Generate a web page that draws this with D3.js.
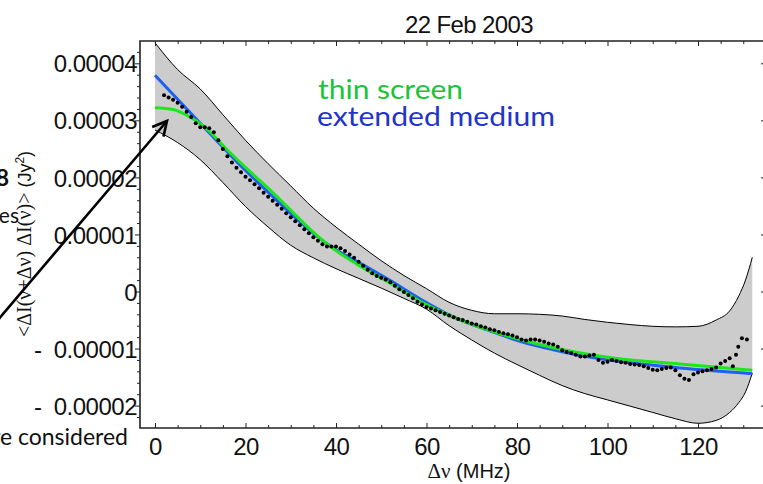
<!DOCTYPE html>
<html><head><meta charset="utf-8">
<script src="https://cdn.jsdelivr.net/npm/d3@7/dist/d3.min.js"></script>
<style>
body{margin:0;background:#fff}
svg{display:block}
text{white-space:pre}
</style>
</head><body>
<svg id="c" width="763" height="484"></svg>
<script>
// values are in units of 1e-5 Jy^2
const xTicks = [0, 20, 40, 60, 80, 100, 120];
const yTicks = [-2, -1, 0, 1, 2, 3, 4];
const yTickLabels = ["-  0.00002", "-  0.00001", "0", "0.00001", "0.00002", "0.00003", "0.00004"];

const bandFreq  = [0,5,10,15,20,25,30,35,40,45,50,55,60,65,70,75,80,85,90,95,100,105,110,115,120,124,127,129,130.5,132];
const bandUpper = [4.36,3.89,3.55,3.10,2.65,2.24,1.85,1.46,1.13,0.83,0.54,0.28,0.05,-0.19,-0.33,-0.39,-0.39,-0.40,-0.43,-0.49,-0.54,-0.58,-0.61,-0.62,-0.61,-0.50,-0.34,-0.08,0.20,0.60];
const bandLower = [2.83,2.61,2.31,1.91,1.49,1.13,0.81,0.59,0.40,0.23,0.06,-0.12,-0.31,-0.60,-0.85,-1.08,-1.28,-1.47,-1.65,-1.79,-1.90,-2.01,-2.12,-2.23,-2.31,-2.26,-2.12,-1.95,-1.76,-1.43];

const greenFreq = [0,4,7,11,16,21,25.4,29.8,34.3,38.7,44.6,51.9,59.2,66.3,73.6,81.1,88.4,95.7,101.7,116,132];
const greenVal  = [3.22,3.19,3.09,2.88,2.48,2.10,1.78,1.44,1.09,0.79,0.48,0.15,-0.20,-0.46,-0.67,-0.85,-0.99,-1.10,-1.17,-1.27,-1.38];

const blueFreq = [0,5,10,15,20,25,30,35,40,45,52,59,66,74,81,88,96,102,116,132];
const blueVal  = [3.79,3.37,2.95,2.53,2.12,1.74,1.37,1.02,0.73,0.51,0.19,-0.15,-0.45,-0.69,-0.88,-1.02,-1.15,-1.22,-1.34,-1.44];

const dotFreq = [2,3,4,5,6,7,8,9,10,11,12,13,14,15,16,17,18,19,20,21,22,23,24,25,26,27,28,29,30,
  31,32,33,34,35,36,37,38,39,40,41,42,43,44,45,46,47,48,49,50,51,52,53,54,55,56,57,58,59,60,
  61,62,63,64,65,66,67,68,69,70,71,72,73,74,75,76,77,78,79,80,81,82,83,84,85,86,87,88,89,90,
  91,92,93,94,95,96,97,98,99,100,101,102,103,104,105,106,107,108,109,110,111,112,113,114,115,
  116,117,118,119,120,121,122,123,124,125,126,127,127.7,128.4,128.9,129.7,130.8];
const dotVal = [3.44,3.40,3.36,3.31,3.24,3.15,3.06,2.95,2.88,2.88,2.86,2.79,2.65,2.50,2.37,2.26,2.17,2.09,2.01,1.95,1.88,1.81,1.73,1.66,1.59,1.52,1.45,1.37,1.30,
  1.23,1.16,1.09,1.02,0.95,0.89,0.83,0.79,0.79,0.79,0.76,0.71,0.65,0.59,0.52,0.45,0.38,0.32,0.27,0.24,0.21,0.16,0.10,0.04,-0.01,-0.06,-0.12,-0.18,-0.23,-0.27,
  -0.30,-0.33,-0.36,-0.39,-0.42,-0.45,-0.48,-0.50,-0.53,-0.56,-0.58,-0.61,-0.63,-0.66,-0.68,-0.71,-0.73,-0.75,-0.77,-0.80,-0.84,-0.86,-0.84,-0.84,-0.86,-0.88,-0.91,-0.93,-0.97,-1.03,
  -1.06,-1.08,-1.11,-1.14,-1.14,-1.12,-1.11,-1.20,-1.25,-1.23,-1.20,-1.22,-1.24,-1.25,-1.27,-1.28,-1.29,-1.31,-1.34,-1.37,-1.38,-1.36,-1.34,-1.33,-1.38,
  -1.47,-1.53,-1.55,-1.45,-1.42,-1.40,-1.38,-1.36,-1.33,-1.26,-1.22,-1.17,-1.31,-1.11,-0.97,-0.82,-0.84];

const svg = d3.select("#c");
const L = 140, R = 767, T = 41, B = 428;
const x = d3.scaleLinear().domain([0, 120]).range([155, 698]);
const y = d3.scaleLinear().domain([0, 4]).range([291.5, 63.3]);

// band
const band = bandFreq.map((f, i) => ({f, lo: bandLower[i], hi: bandUpper[i]}));
svg.append("path").datum(band)
  .attr("d", d3.area().x(d => x(d.f)).y0(d => y(d.lo)).y1(d => y(d.hi)).curve(d3.curveMonotoneX))
  .attr("fill", "#cccccc");
const edge = d3.line().x(d => x(d.f)).y(d => y(d.v)).curve(d3.curveMonotoneX);
svg.append("path").datum(band.map(d => ({f: d.f, v: d.hi}))).attr("d", edge)
  .attr("fill", "none").attr("stroke", "#000").attr("stroke-width", 1);
svg.append("path").datum(band.map(d => ({f: d.f, v: d.lo}))).attr("d", edge)
  .attr("fill", "none").attr("stroke", "#000").attr("stroke-width", 1);

// fits
const lineGen = d3.line().x(d => x(d.f)).y(d => y(d.v)).curve(d3.curveMonotoneX);
svg.append("path").datum(blueFreq.map((f, i) => ({f, v: blueVal[i]}))).attr("d", lineGen)
  .attr("fill", "none").attr("stroke", "#2060f0").attr("stroke-width", 3);
svg.append("path").datum(greenFreq.map((f, i) => ({f, v: greenVal[i]}))).attr("d", lineGen)
  .attr("fill", "none").attr("stroke", "#1ee61e").attr("stroke-width", 3);

// data dots
svg.append("g").selectAll("circle").data(dotFreq.map((f, i) => ({f, v: dotVal[i]})))
  .join("circle").attr("cx", d => x(d.f)).attr("cy", d => y(d.v)).attr("r", 2).attr("fill", "#000");

// axes
const minorX = d3.range(-0, 136, 5).filter(v => v % 20 !== 0);
const minorY = d3.range(-2.2, 4.3, 0.2).map(v => Math.round(v * 10) / 10).filter(v => Math.abs(v - Math.round(v)) > 1e-6);
function styleAxis(g) {
  g.select(".domain").remove();
  g.selectAll("line").attr("stroke", "#222").attr("stroke-width", 1);
}
svg.append("g").attr("transform", `translate(0,${B})`)
  .call(d3.axisBottom(x).tickValues(xTicks).tickSizeInner(-5).tickSizeOuter(0).tickPadding(10))
  .call(styleAxis)
  .call(g => g.selectAll("text").attr("font-family", "Liberation Sans, Arial, sans-serif")
    .attr("font-size", 24).attr("letter-spacing", "-0.5px").attr("fill", "#111"));
svg.append("g").attr("transform", `translate(0,${B})`)
  .call(d3.axisBottom(x).tickValues(minorX).tickSizeInner(-3).tickSizeOuter(0).tickFormat(""))
  .call(styleAxis);
svg.append("g").attr("transform", `translate(0,${T})`)
  .call(d3.axisTop(x).tickValues(xTicks).tickSizeInner(-5).tickSizeOuter(0).tickFormat(""))
  .call(styleAxis);
svg.append("g").attr("transform", `translate(0,${T})`)
  .call(d3.axisTop(x).tickValues(minorX).tickSizeInner(-3).tickSizeOuter(0).tickFormat(""))
  .call(styleAxis);
svg.append("g").attr("transform", `translate(${L},0)`)
  .call(d3.axisLeft(y).tickValues(yTicks).tickSizeInner(5).tickSizeOuter(0).tickPadding(-2)
    .tickFormat((d, i) => yTickLabels[i]))
  .call(styleAxis)
  .call(g => g.selectAll("text").attr("font-family", "Liberation Sans, Arial, sans-serif")
    .attr("font-size", 24).attr("letter-spacing", "-0.5px").attr("fill", "#111").attr("dy", "0.36em"));
svg.append("g").attr("transform", `translate(${L},0)`)
  .call(d3.axisLeft(y).tickValues(minorY).tickSizeInner(3).tickSizeOuter(0).tickFormat(""))
  .call(styleAxis);
svg.append("g").attr("transform", `translate(${R},0)`)
  .call(d3.axisRight(y).tickValues(yTicks).tickSizeInner(-6).tickSizeOuter(0).tickFormat(""))
  .call(styleAxis);

// frame
svg.append("path").attr("d", `M${R},${T}H${L}V${B}H${R}`).attr("fill", "none")
  .attr("stroke", "#222").attr("stroke-width", 1.6);

// title
svg.append("text").attr("x", 469).attr("y", 33).attr("text-anchor", "middle")
  .attr("font-family", "Liberation Sans, Arial, sans-serif").attr("font-size", 24)
  .attr("letter-spacing", "-0.6px").attr("fill", "#111").text("22 Feb 2003");

// x label
const xl = svg.append("text").attr("x", 469).attr("y", 478).attr("text-anchor", "middle")
  .attr("font-size", 20).attr("fill", "#111");
xl.append("tspan").attr("font-family", "Liberation Serif, serif").attr("font-size", 21).text("Δν");
xl.append("tspan").attr("font-family", "Liberation Sans, Arial, sans-serif").text(" (MHz)");

// y label
const yl = svg.append("text").attr("transform", "translate(31,244) rotate(-90)")
  .attr("text-anchor", "middle").attr("font-size", 20).attr("fill", "#111");
yl.append("tspan").attr("font-family", "Liberation Serif, serif").text("<ΔI(ν+Δν) ΔI(ν)>");
yl.append("tspan").attr("font-family", "Liberation Sans, Arial, sans-serif").attr("font-size", 18).text(" (Jy");
yl.append("tspan").attr("font-family", "Liberation Sans, Arial, sans-serif").attr("font-size", 12).attr("dy", -7).text("2");
yl.append("tspan").attr("font-family", "Liberation Sans, Arial, sans-serif").attr("font-size", 18).attr("dy", 7).text(")");

// legend
svg.append("text").attr("x", 318).attr("y", 99).attr("font-family", "Lato, sans-serif")
  .attr("font-size", 27).attr("fill", "#19c43b")
  .attr("textLength", 145).attr("lengthAdjust", "spacingAndGlyphs").text("thin screen");
svg.append("text").attr("x", 317).attr("y", 126).attr("font-family", "Lato, sans-serif")
  .attr("font-size", 27).attr("fill", "#2233cc")
  .attr("textLength", 238).attr("lengthAdjust", "spacingAndGlyphs").text("extended medium");

// fragments of surrounding slide text
svg.append("text").attr("x", 9).attr("y", 186).attr("text-anchor", "end")
  .attr("font-family", "Lato, sans-serif").attr("font-size", 23).attr("font-weight", "bold").attr("fill", "#111").text("8");
svg.append("text").attr("x", 19).attr("y", 223).attr("text-anchor", "end")
  .attr("font-family", "Lato, sans-serif").attr("font-size", 21).attr("fill", "#111").text("es");
svg.append("text").attr("x", 128).attr("y", 445).attr("text-anchor", "end")
  .attr("font-family", "Lato, sans-serif").attr("font-size", 23).attr("fill", "#111").text("are considered");

// arrow
const tip = [167, 121], tail = [-20, 341];
const ang = Math.atan2(tail[1] - tip[1], tail[0] - tip[0]);
const a1 = ang + 0.48, a2 = ang - 0.48, len = 16;
svg.append("path").attr("d", `M${tail[0]},${tail[1]}L${tip[0]},${tip[1]}`)
  .attr("stroke", "#000").attr("stroke-width", 2.6).attr("fill", "none");
svg.append("path").attr("d",
  `M${tip[0] + len * Math.cos(a1)},${tip[1] + len * Math.sin(a1)}L${tip[0]},${tip[1]}L${tip[0] + len * Math.cos(a2)},${tip[1] + len * Math.sin(a2)}`)
  .attr("stroke", "#000").attr("stroke-width", 2.6).attr("fill", "none").attr("stroke-linejoin", "miter");
</script>
</body></html>
